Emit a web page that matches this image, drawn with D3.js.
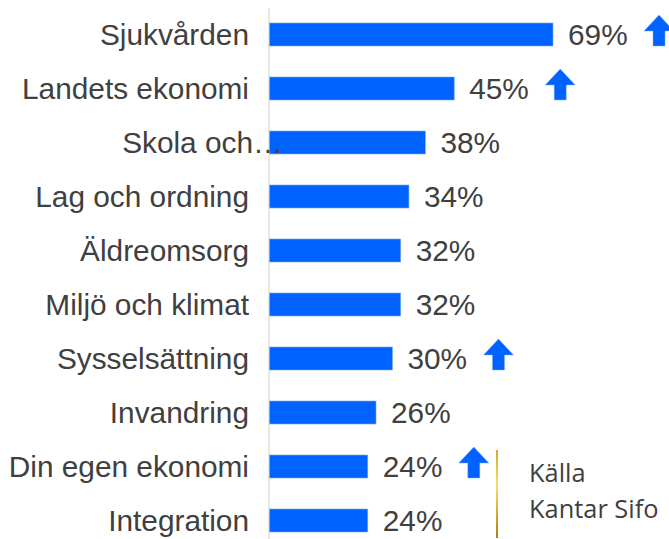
<!DOCTYPE html>
<html>
<head>
<meta charset="utf-8">
<script src="https://cdn.jsdelivr.net/npm/d3@7"></script>
<style>
  body { margin: 0; background: #fff; }
  svg { display: block; }
</style>
</head>
<body>
<svg id="chart" width="669" height="539"></svg>
<script>
// values
const categories = [
  "Sjukvården", "Landets ekonomi", "Skola och", "Lag och ordning", "Äldreomsorg",
  "Miljö och klimat", "Sysselsättning", "Invandring", "Din egen ekonomi", "Integration"
];
const values = [69, 45, 38, 34, 32, 32, 30, 26, 24, 24];
const rising = [true, true, false, false, false, false, true, false, true, false];
const truncated = [false, false, true, false, false, false, false, false, false, false];
const sourceLines = ["Källa", "Kantar Sifo"];

const blue = "#0062ff";
const textColor = "#404040";

const svg = d3.select("#chart");

const x = d3.scaleLinear().domain([0, 100]).range([269, 680.6]);
const y = d3.scaleBand()
  .domain(categories)
  .range([7.5, 547.5])
  .paddingInner(0.574)
  .paddingOuter(0.287);

const rows = categories.map((c, i) => ({ c, v: values[i], up: rising[i], cut: truncated[i] }));

// axis line
svg.append("line")
  .attr("x1", x(0)).attr("x2", x(0))
  .attr("y1", 8).attr("y2", 539)
  .attr("stroke", "#d9d9d9")
  .attr("stroke-width", 1.2);

// bars
svg.append("g")
  .selectAll("rect")
  .data(rows)
  .join("rect")
  .attr("x", x(0) + 0.5)
  .attr("y", d => y(d.c))
  .attr("width", d => x(d.v) - x(0) - 0.5)
  .attr("height", y.bandwidth())
  .attr("fill", blue)
  .attr("stroke", "#7aaaff")
  .attr("stroke-width", 0.6);

// category labels
const labels = svg.append("g")
  .attr("font-family", "'Liberation Sans', Arial, sans-serif")
  .attr("font-size", 29.8)
  .attr("fill", textColor);

labels.selectAll("text.cat")
  .data(rows)
  .join("text")
  .attr("class", "cat")
  .attr("x", d => d.cut ? 253 : 249)
  .attr("y", d => y(d.c) + y.bandwidth() / 2)
  .attr("dy", "0.35em")
  .attr("text-anchor", "end")
  .text(d => d.c);

labels.selectAll("text.ell")
  .data(rows.filter(d => d.cut))
  .join("text")
  .attr("class", "ell")
  .attr("x", 253)
  .attr("y", d => y(d.c) + y.bandwidth() / 2)
  .attr("dy", "0.35em")
  .text("…");

// value labels
labels.selectAll("text.val")
  .data(rows)
  .join("text")
  .attr("class", "val")
  .attr("x", d => x(d.v) + 15)
  .attr("y", d => y(d.c) + y.bandwidth() / 2)
  .attr("dy", "0.35em")
  .text(d => d.v + "%");

// up arrows
const arrow = "M0,-31 L15,-15 L6,-15 L6,0 L-6,0 L-6,-15 L-15,-15 Z";
svg.append("g")
  .selectAll("path")
  .data(rows.filter(d => d.up))
  .join("path")
  .attr("transform", d => `translate(${x(d.v) + 106},${y(d.c) + y.bandwidth()})`)
  .attr("d", arrow)
  .attr("fill", blue)
  .attr("stroke", "#7aaaff")
  .attr("stroke-width", 0.5);

// source
const grad = svg.append("defs").append("linearGradient")
  .attr("id", "gold")
  .attr("x1", 0).attr("y1", 0).attr("x2", 0).attr("y2", 1);
grad.append("stop").attr("offset", "0%").attr("stop-color", "#d4a83a");
grad.append("stop").attr("offset", "40%").attr("stop-color", "#f6dc70");
grad.append("stop").attr("offset", "100%").attr("stop-color", "#b07d10");

svg.append("rect")
  .attr("x", 496).attr("y", 450)
  .attr("width", 2).attr("height", 88)
  .attr("fill", "url(#gold)");

svg.append("g")
  .attr("font-family", "'Open Sans', 'Noto Sans', sans-serif")
  .attr("font-size", 25.4)
  .attr("fill", textColor)
  .selectAll("text")
  .data(sourceLines)
  .join("text")
  .attr("x", 529)
  .attr("y", (d, i) => 482 + i * 36)
  .text(d => d);
</script>
</body>
</html>
